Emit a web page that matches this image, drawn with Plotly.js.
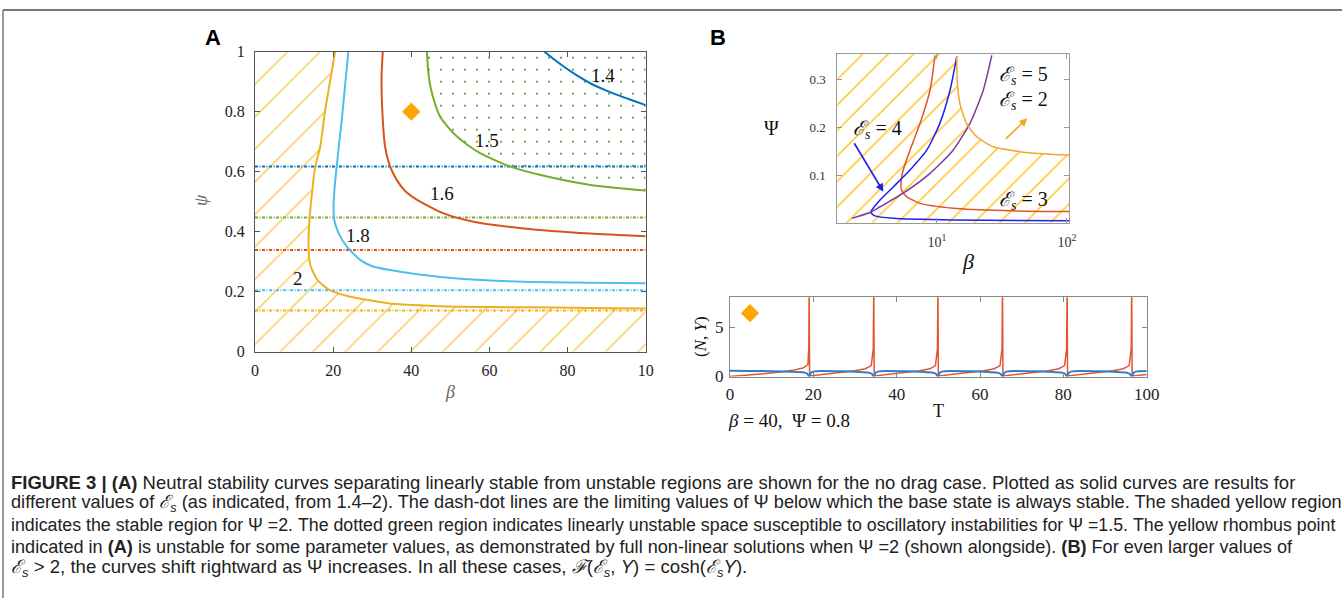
<!DOCTYPE html>
<html><head><meta charset="utf-8">
<script src="https://cdn.plot.ly/plotly-3.0.1.min.js"></script>
<style>html,body{margin:0;padding:0;background:#fff;}#chart{width:1342px;height:598px;}</style>
</head><body><div id="chart"></div>
<script>
// ---------- Panel A data: neutral stability curves (beta, psi) ----------
const esLabels = ['1.4', '1.5', '1.6', '1.8', '2'];
const beta14 = [74.1, 76.5, 79.1, 82.5, 85.9, 89.5, 92.7, 96.5, 100];
const psi14  = [1.0, 0.975, 0.95, 0.92, 0.894, 0.873, 0.856, 0.838, 0.822];
const beta15 = [44.0, 44.3, 44.9, 46.0, 47.4, 49.5, 51.7, 54.5, 57.7, 61.5, 65.4, 73.1, 85.9, 100];
const psi15  = [1.0, 0.94, 0.883, 0.83, 0.783, 0.747, 0.717, 0.688, 0.661, 0.638, 0.617, 0.589, 0.556, 0.537];
const beta16 = [32.7, 32.4, 32.5, 33.3, 34.5, 36.3, 38.5, 41.5, 48.3, 56.0, 68.8, 85.9, 100];
const psi16  = [1.0, 0.92, 0.828, 0.683, 0.62, 0.572, 0.535, 0.506, 0.461, 0.433, 0.411, 0.394, 0.385];
const beta18 = [23.9, 23.0, 22.2, 21.5, 20.9, 20.4, 20.1, 20.3, 21.4, 23.5, 26.9, 30.0, 34.6, 42.0, 51.7, 68.8, 85.0, 100];
const psi18  = [1.0, 0.88, 0.772, 0.69, 0.617, 0.55, 0.484, 0.439, 0.395, 0.35, 0.306, 0.285, 0.272, 0.257, 0.244, 0.233, 0.23, 0.228];
const beta2  = [20.5, 19.2, 17.9, 16.7, 15.4, 14.6, 14.0, 13.7, 13.8, 14.3, 16.0, 19.0, 24.1, 30.0, 34.4, 42.0, 51.5, 68.7, 85.0, 100];
const psi2   = [1.0, 0.9, 0.8, 0.683, 0.617, 0.53, 0.45, 0.37, 0.32, 0.283, 0.239, 0.206, 0.184, 0.17, 0.161, 0.155, 0.15, 0.148, 0.146, 0.144];
const psiLimits = [0.617, 0.447, 0.339, 0.205, 0.137];   // dash-dot limits, same order as esLabels
const betaSpan = [0, 100];
const psiSpan = [0, 1];
const pointA = {beta: [40], psi: [0.8]};
const betaTicksA = [0, 20, 40, 60, 80, 100];
const betaTickTextA = ['0', '20', '40', '60', '80', '10'];

// ---------- Panel B (top) data: log beta vs Psi ----------
const bB2 = [14.2, 14.3, 15.0, 16.9, 20.2, 27.1, 43.5, 69.8, 104];
const pB2 = [0.347, 0.298, 0.25, 0.208, 0.181, 0.16, 0.15, 0.145, 0.143];
const bB3 = [9.66, 8.84, 7.4, 6.2, 5.5, 5.28, 5.35, 5.84, 7.4, 13.3, 32.4, 104];
const pB3 = [0.349, 0.277, 0.208, 0.153, 0.112, 0.084, 0.07, 0.057, 0.043, 0.033, 0.028, 0.026];
const bB4 = [14.2, 12.6, 10.5, 8.34, 6.2, 4.61, 3.65, 3.15, 3.1, 3.33, 4.61, 13.3, 104];
const pB4 = [0.347, 0.277, 0.208, 0.153, 0.112, 0.077, 0.05, 0.029, 0.024, 0.017, 0.012, 0.0085, 0.007];
const bB5 = [26.4, 22.7, 17.9, 13.3, 8.84, 5.5, 3.65, 3.05, 2.21];
const pB5 = [0.349, 0.277, 0.208, 0.153, 0.105, 0.064, 0.036, 0.024, 0.012];
const betaSpanB = [1.5, 120];
const psiSpanB = [0, 0.36];

// ---------- Panel B (bottom) data: time series at beta=40, Psi=0.8 ----------
const tN = [0, 4, 8, 12, 15, 17.5, 18.7, 18.92, 19.0,
  19.1, 22, 26, 30, 32.5, 33.9, 34.38, 34.5,
  34.6, 37.5, 41.5, 45.5, 48, 49.3, 49.78, 49.9,
  50.0, 52.9, 56.9, 60.9, 63.4, 64.8, 65.28, 65.4,
  65.5, 68.4, 72.4, 76.4, 78.9, 80.3, 80.78, 80.9,
  81.0, 83.9, 87.9, 91.9, 94.4, 95.8, 96.28, 96.4,
  96.5, 98, 100];
const N = [0.0, 0.12, 0.27, 0.45, 0.62, 0.85, 1.2, 3.0, 9.0,
  0.05, 0.18, 0.35, 0.57, 0.78, 1.1, 2.8, 9.0,
  0.05, 0.18, 0.35, 0.57, 0.78, 1.1, 2.8, 9.0,
  0.05, 0.18, 0.35, 0.57, 0.78, 1.1, 2.8, 9.0,
  0.05, 0.18, 0.35, 0.57, 0.78, 1.1, 2.8, 9.0,
  0.05, 0.18, 0.35, 0.57, 0.78, 1.1, 2.8, 9.0,
  0.05, 0.12, 0.2];
const tY = [0, 5, 10, 15, 17.5, 18.5, 19.0,
  19.4, 20.2, 22, 27, 31, 33, 34.0, 34.5,
  34.9, 35.7, 37.5, 42.5, 46.5, 48.5, 49.4, 49.9,
  50.3, 51.1, 52.9, 57.9, 61.9, 63.9, 64.9, 65.4,
  65.8, 66.6, 68.4, 73.4, 77.4, 79.4, 80.4, 80.9,
  81.3, 82.1, 83.9, 88.9, 92.9, 94.9, 95.9, 96.4,
  96.8, 97.6, 100];
const Y = [0.58, 0.56, 0.53, 0.48, 0.42, 0.3, 0.0,
  0.35, 0.52, 0.56, 0.52, 0.46, 0.4, 0.28, 0.0,
  0.35, 0.52, 0.56, 0.52, 0.46, 0.4, 0.28, 0.0,
  0.35, 0.52, 0.56, 0.52, 0.46, 0.4, 0.28, 0.0,
  0.35, 0.52, 0.56, 0.52, 0.46, 0.4, 0.28, 0.0,
  0.35, 0.52, 0.56, 0.52, 0.46, 0.4, 0.28, 0.0,
  0.35, 0.52, 0.56];
const pointB = {t: [4.8], y: [6.4]};
const tTicks = [0, 20, 40, 60, 80, 100];

// ---------- layout helpers ----------
const W = 1342, H = 598;
const dx = (a, b) => [a / W, b / W];
const dy = (top, bottom) => [1 - bottom / H, 1 - top / H];
const SERIF = 'Liberation Serif, DejaVu Serif, Times New Roman, serif';
const SANS = 'Liberation Sans, Arial, Helvetica, sans-serif';

const colA = ['#0072BD', '#77AC30', '#D95319', '#4DBEEE', '#EDB120'];
const curvesA = [[beta14, psi14], [beta15, psi15], [beta16, psi16], [beta18, psi18], [beta2, psi2]];

const traces = [];
// hatched stable region for Es = 2 (panel A)
traces.push({
  x: [betaSpan[0]].concat(beta2, [betaSpan[1], betaSpan[0]]),
  y: [psiSpan[1]].concat(psi2, [psiSpan[0], psiSpan[0]]),
  xaxis: 'x', yaxis: 'y', mode: 'none', fill: 'toself', fillcolor: 'rgba(0,0,0,0)',
  fillpattern: {shape: '/', fgcolor: '#F7C948', bgcolor: 'rgba(0,0,0,0)', size: 23, solidity: 0.06},
  hoverinfo: 'skip', showlegend: false
});
// dotted unstable region for Es = 1.5
traces.push({
  x: beta15.concat([betaSpan[1]]),
  y: psi15.concat([psiSpan[1]]),
  xaxis: 'x', yaxis: 'y', mode: 'none', fill: 'toself', fillcolor: 'rgba(0,0,0,0)',
  fillpattern: {shape: '.', fgcolor: '#3F7F2A', bgcolor: 'rgba(0,0,0,0)', size: 12, solidity: 0.02},
  hoverinfo: 'skip', showlegend: false
});
// dash-dot limits
psiLimits.forEach((v, i) => traces.push({
  x: betaSpan, y: [v, v], xaxis: 'x', yaxis: 'y', mode: 'lines',
  line: {color: colA[i], width: 2, dash: '3px,1.5px,1px,1.5px'}, hoverinfo: 'skip', showlegend: false
}));
// neutral curves
curvesA.forEach((c, i) => traces.push({
  x: c[0], y: c[1], xaxis: 'x', yaxis: 'y', mode: 'lines', name: esLabels[i],
  line: {color: colA[i], width: 2, shape: 'spline', smoothing: 0.6}, showlegend: false
}));
traces.push({x: pointA.beta, y: pointA.psi, xaxis: 'x', yaxis: 'y', mode: 'markers',
  marker: {symbol: 'diamond', size: 14, color: '#FFA500'}, showlegend: false});

// panel B top: hatch
traces.push({
  x: [betaSpanB[0], bB2[0]].concat(bB2, [betaSpanB[1], betaSpanB[1], betaSpanB[0]]),
  y: [psiSpanB[1], psiSpanB[1]].concat(pB2, [pB2[pB2.length - 1], psiSpanB[0], psiSpanB[0]]),
  xaxis: 'x2', yaxis: 'y2', mode: 'none', fill: 'toself', fillcolor: 'rgba(0,0,0,0)',
  fillpattern: {shape: '/', fgcolor: '#FFC21A', bgcolor: 'rgba(0,0,0,0)', size: 18, solidity: 0.08},
  hoverinfo: 'skip', showlegend: false
});
const curvesB = [[bB3, pB3, '#E0552A'], [bB4, pB4, '#1F1FF0'], [bB5, pB5, '#7B3A9C'], [bB2, pB2, '#F0A830']];
curvesB.forEach(c => traces.push({
  x: c[0], y: c[1], xaxis: 'x2', yaxis: 'y2', mode: 'lines',
  line: {color: c[2], width: 1.5, shape: 'spline', smoothing: 0.6}, showlegend: false
}));

// panel B bottom
traces.push({x: tN, y: N, xaxis: 'x3', yaxis: 'y3', mode: 'lines', line: {color: '#E0552A', width: 1.5}, showlegend: false});
traces.push({x: tY, y: Y, xaxis: 'x3', yaxis: 'y3', mode: 'lines', line: {color: '#2F7FCB', width: 2, shape: 'spline', smoothing: 0.5}, showlegend: false});
traces.push({x: pointB.t, y: pointB.y, xaxis: 'x3', yaxis: 'y3', mode: 'markers',
  marker: {symbol: 'diamond', size: 14, color: '#FFA500'}, showlegend: false});

const axBase = {showgrid: false, zeroline: false, showline: true, mirror: 'ticks', ticks: 'inside', ticklen: 5, fixedrange: true};
const layout = {
  width: W, height: H, margin: {l: 0, r: 0, t: 0, b: 0},
  paper_bgcolor: '#fff', plot_bgcolor: 'rgba(0,0,0,0)', showlegend: false,
  xaxis: Object.assign({}, axBase, {domain: dx(255, 645.7), range: betaSpan, anchor: 'y',
    tickvals: betaTicksA, ticktext: betaTickTextA, linecolor: '#555', tickcolor: '#555',
    tickfont: {family: SERIF, size: 16, color: '#222'}, ticklabelstandoff: 4}),
  yaxis: Object.assign({}, axBase, {domain: dy(51.7, 351.7), range: psiSpan, anchor: 'x', dtick: 0.2,
    linecolor: '#555', tickcolor: '#555', tickfont: {family: SERIF, size: 16, color: '#222'}, ticklabelstandoff: 6}),
  xaxis2: Object.assign({}, axBase, {domain: dx(837.3, 1069.3), type: 'log', range: [0.233, 2.018], anchor: 'y2',
    tickvals: [10, 100], ticktext: ['10<sup>1</sup>', '10<sup>2</sup>'], linecolor: '#999', tickcolor: '#999',
    tickfont: {family: SERIF, size: 14, color: '#333'}, ticklabelstandoff: 6}),
  yaxis2: Object.assign({}, axBase, {domain: dy(54, 222.7), range: [0.003, 0.352], anchor: 'x2',
    tickvals: [0.1, 0.2, 0.3], linecolor: '#999', tickcolor: '#999',
    tickfont: {family: SERIF, size: 13, color: '#333'}, ticklabelstandoff: 8}),
  xaxis3: Object.assign({}, axBase, {domain: dx(730, 1146.7), range: [0, 100], anchor: 'y3',
    tickvals: tTicks, linecolor: '#888', tickcolor: '#888',
    tickfont: {family: SERIF, size: 17, color: '#222'}, ticklabelstandoff: 2}),
  yaxis3: Object.assign({}, axBase, {domain: dy(297.3, 376.5), range: [0, 8], anchor: 'x3',
    tickvals: [0, 5], linecolor: '#888', tickcolor: '#888', side: 'left', ticklabelposition: 'outside',
    tickfont: {family: SERIF, size: 17, color: '#222'}, ticklabelstandoff: 2}),
  shapes: [
    {type: 'line', xref: 'paper', yref: 'paper', x0: 3 / W, x1: 1, y0: 1 - 10 / H, y1: 1 - 10 / H, line: {color: '#777', width: 2}},
    {type: 'line', xref: 'paper', yref: 'paper', x0: 3 / W, x1: 3 / W, y0: 0, y1: 1 - 10 / H, line: {color: '#777', width: 1.5}}
  ],
  annotations: []
};

const ann = layout.annotations;
const P = (x, y, text, font, extra) => ann.push(Object.assign({xref: 'paper', yref: 'paper', x: x / W, y: 1 - y / H,
  text: text, showarrow: false, font: font, xanchor: 'center', yanchor: 'middle'}, extra || {}));
P(213, 38, '<b>A</b>', {family: SANS, size: 22, color: '#000'});
P(718, 38, '<b>B</b>', {family: SANS, size: 22, color: '#000'});
// panel A labels
const labPosA = [[603, 75], [486.7, 140], [441.7, 193], [358, 235], [298, 278]];
esLabels.forEach((t, i) => P(labPosA[i][0], labPosA[i][1], t, {family: SERIF, size: 19, color: '#111'}));
P(450, 392, '<i>β</i>', {family: SERIF, size: 18, color: '#666'});
P(201, 200, '<i>ψ</i>', {family: SERIF, size: 18, color: '#666'}, {textangle: -90});
// panel B top labels
const esFont = {family: SERIF, size: 20, color: '#111'};
P(1023, 75, '<i>ℰ<sub>s</sub></i> = 5', esFont);
P(1023, 100, '<i>ℰ<sub>s</sub></i> = 2', esFont);
P(877, 130, '<i>ℰ<sub>s</sub></i> = 4', esFont);
P(1023, 200, '<i>ℰ<sub>s</sub></i> = 3', esFont);
P(771, 128, 'Ψ', {family: SERIF, size: 20, color: '#111'});
P(968, 262, '<i>β</i>', {family: SERIF, size: 22, color: '#111'});
// arrows (data coordinates; log axis uses log10)
ann.push({xref: 'x2', yref: 'y2', x: Math.log10(3.87), y: 0.067, ax: -30, ay: -50, axref: 'pixel', ayref: 'pixel',
  showarrow: true, arrowhead: 2, arrowsize: 1, arrowwidth: 1.6, arrowcolor: '#1F1FF0', text: ''});
ann.push({xref: 'x2', yref: 'y2', x: Math.log10(49.5), y: 0.219, ax: -23, ay: 22, axref: 'pixel', ayref: 'pixel',
  showarrow: true, arrowhead: 2, arrowsize: 1, arrowwidth: 1.6, arrowcolor: '#F5A623', text: ''});
// panel B bottom labels
P(700, 337, '(<i>N</i>, <i>Y</i>)', {family: SERIF, size: 17, color: '#111'}, {textangle: -90});
P(938, 411, 'T', {family: SERIF, size: 18, color: '#111'});
P(726, 420, '<i>β</i> = 40,  Ψ = 0.8', {family: SERIF, size: 19, color: '#111'}, {xanchor: 'left'});
// caption
const capLines = [
  '<b>FIGURE 3 | (A)</b> Neutral stability curves separating linearly stable from unstable regions are shown for the no drag case. Plotted as solid curves are results for',
  'different values of <i>ℰ<sub>s</sub></i> (as indicated, from 1.4–2). The dash-dot lines are the limiting values of Ψ below which the base state is always stable. The shaded yellow region',
  'indicates the stable region for Ψ =2. The dotted green region indicates linearly unstable space susceptible to oscillatory instabilities for Ψ =1.5. The yellow rhombus point',
  'indicated in <b>(A)</b> is unstable for some parameter values, as demonstrated by full non-linear solutions when Ψ =2 (shown alongside). <b>(B)</b> For even larger values of',
  '<i>ℰ<sub>s</sub></i> &gt; 2, the curves shift rightward as Ψ increases. In all these cases, <i>ℱ</i>(<i>ℰ<sub>s</sub></i>, <i>Y</i>) = cosh(<i>ℰ<sub>s</sub>Y</i>).'
];
const capY = [482, 503.5, 525, 546.5, 568];
const capSize = [18.5, 18.2, 17.77, 18.14, 18.6];
capLines.forEach((t, i) => P(9, capY[i], t, {family: SANS, size: capSize[i], color: '#222'}, {xanchor: 'left'}));

Plotly.newPlot('chart', traces, layout, {staticPlot: true, displayModeBar: false});
</script></body></html>
